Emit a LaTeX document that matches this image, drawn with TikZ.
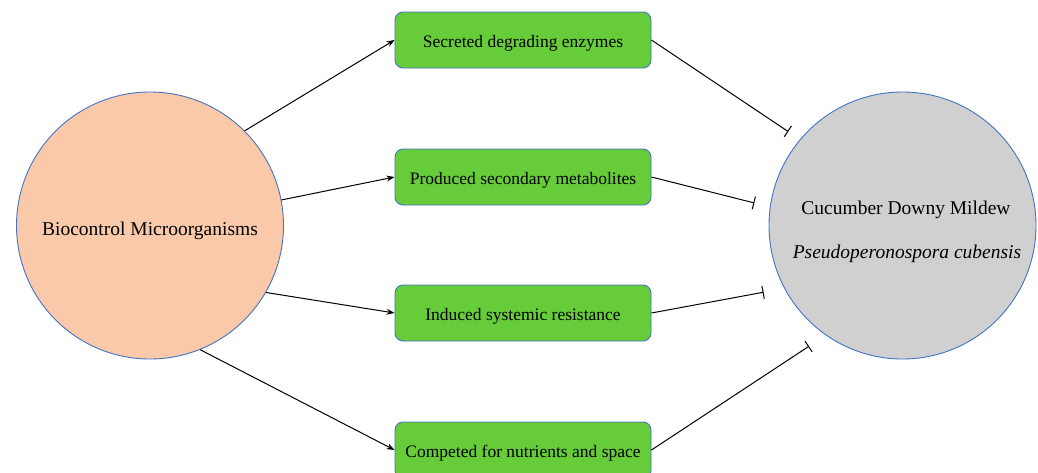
\documentclass[tikz,border=0pt]{standalone}
\usepackage{fontspec}
\setmainfont{Liberation Serif}
\usetikzlibrary{arrows.meta, positioning}
\definecolor{bcPeach}{HTML}{F9C9AA}
\definecolor{bcGrey}{HTML}{D0D0D0}
\definecolor{bcGreen}{HTML}{66CC3A}
\definecolor{bcBlue}{HTML}{4472C4}
\tikzset{
  % organisms as large circles, mechanisms as rounded boxes
  organism/.style  = {circle, draw=bcBlue, line width=0.9pt, minimum size=267pt,
                      inner sep=0pt, text height=19pt, text depth=0pt,
                      font=\fontsize{19.5}{23}\selectfont},
  orglbl/.style    = {anchor=base, inner sep=0pt, font=\fontsize{19.5}{23}\selectfont},
  mechbox/.style   = {rectangle, rounded corners=8pt, draw=bcBlue, fill=bcGreen,
                      line width=0.9pt, minimum width=256pt, minimum height=56pt,
                      inner sep=0pt, text height=15pt, text depth=0pt,
                      font=\fontsize{17.5}{21}\selectfont},
  promote/.style   = {-{Stealth[length=8pt, width=6pt]}, line width=1pt, black},
  inhibit/.style   = {-{Bar[width=13pt]}, line width=1pt, black},
}

\begin{document}
\begin{tikzpicture}[x=1pt, y=-1pt]
  \useasboundingbox (0,0) rectangle (1038,472);
  % the two organisms
  \node[organism, fill=bcPeach] (bio) at (150,225.5) {Biocontrol Microorganisms};
  \node[organism, fill=bcGrey] (mildew) at (902.5,225.5) {};
  \node[orglbl] (mildewname) at (906,214) {Cucumber Downy Mildew};
  \node[orglbl] (mildewsci)  at (907,258) {\textit{Pseudoperonospora cubensis}};
  % mechanisms in between
  \node[mechbox] (sec)  at (523,40)  {Secreted degrading enzymes};
  \node[mechbox] (prod) at (523,177) {Produced secondary metabolites};
  \node[mechbox] (isr)  at (523,313) {Induced systemic resistance};
  \node[mechbox] (comp) at (523,450) {Competed for nutrients and space};
  % biocontrol agents act through each mechanism
  \draw[promote] (bio.45)  -- (sec.west);
  \draw[promote] (bio.11)  -- (prod.west);
  \draw[promote] (bio.-30) -- (isr.west);
  \draw[promote] (bio.-68) -- (comp.west);
  % each mechanism suppresses the pathogen
  \draw[inhibit, shorten >=14pt] (sec.east)  -- (mildew.140);
  \draw[inhibit, shorten >=16pt] (prod.east) -- (mildew.172);
  \draw[inhibit, shorten >=21pt] (isr.east)  -- (mildew.208);
  \draw[inhibit, shorten >=20pt] (comp.east) -- (mildew.235);
\end{tikzpicture}
\end{document}
